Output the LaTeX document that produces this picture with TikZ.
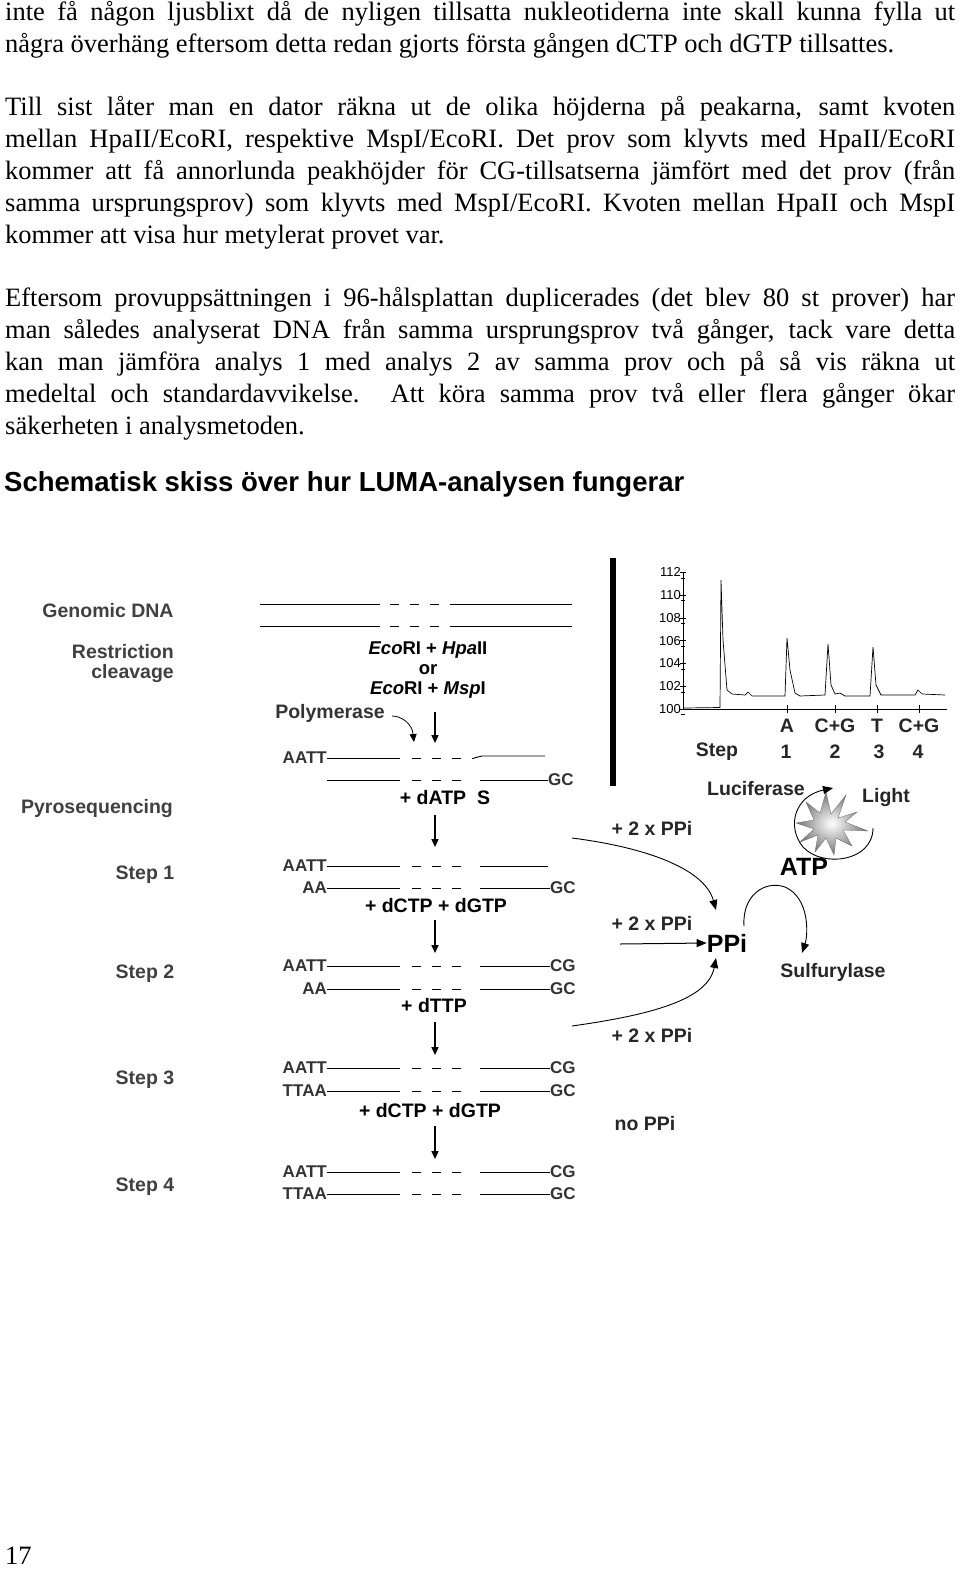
\documentclass[tikz,border=0pt]{standalone}
\usepackage{fontspec}
\setmainfont{Liberation Serif}
\newfontfamily\arial{Liberation Sans}
\usetikzlibrary{arrows.meta}
\begin{document}
\begin{tikzpicture}[x=1pt,y=-1pt,
 lbl/.style={font=\arial\bfseries\fontsize{19.5}{22}\selectfont,text=black!75,inner sep=0},
 dlbl/.style={font=\arial\bfseries\fontsize{19.5}{22}\selectfont,inner sep=0},
 seq/.style={font=\arial\bfseries\fontsize{17}{19}\selectfont,text=black!80,inner sep=0},
 strand/.style={line width=0.9pt},
 gap/.style={line width=0.9pt,dash pattern=on 9pt off 11pt},
 dn/.style={-{Triangle[length=8pt,width=7pt]},line width=1.6pt},
 carr/.style={-{Triangle[length=10pt,width=8pt]},line width=0.9pt}]
\useasboundingbox (0,0) rectangle (960,1571);
\node[anchor=north west,inner sep=0,text width=950pt,align=justify,font=\fontsize{26.5}{32}\selectfont] (txt) at (5,1) {%
inte få någon ljusblixt då de nyligen tillsatta nukleotiderna inte skall kunna fylla ut\linebreak
några överhäng eftersom detta redan gjorts första gången dCTP och dGTP tillsattes.\par
\vspace{31pt}
Till sist låter man en dator räkna ut de olika höjderna på peakarna, samt kvoten\linebreak
mellan HpaII/EcoRI, respektive MspI/EcoRI. Det prov som klyvts med HpaII/EcoRI\linebreak
kommer att få annorlunda peakhöjder för CG-tillsatserna jämfört med det prov (från\linebreak
samma ursprungsprov) som klyvts med MspI/EcoRI. Kvoten mellan HpaII och MspI\linebreak
kommer att visa hur metylerat provet var.\par
\vspace{31pt}
Eftersom provuppsättningen i 96-hålsplattan duplicerades (det blev 80 st prover) har\linebreak
man således analyserat DNA från samma ursprungsprov två gånger, tack vare detta\linebreak
kan man jämföra analys 1 med analys 2 av samma prov och på så vis räkna ut\linebreak
medeltal och standardavvikelse. Att köra samma prov två eller flera gånger ökar\linebreak
säkerheten i analysmetoden.\par};
\node[anchor=west,inner sep=0,font=\arial\bfseries\fontsize{27.5}{30}\selectfont] (head) at (4,484) {Schematisk skiss över hur LUMA-analysen fungerar};
\node[anchor=west,inner sep=0,font=\fontsize{26.5}{30}\selectfont] (pg) at (5,1556) {17};
% left labels
\node[lbl] (gd) at (108,611) {Genomic DNA};
\node[lbl,align=right,anchor=east,font=\arial\bfseries\fontsize{19.5}{20}\selectfont] (rc) at (174,663) {Restriction\\cleavage};
\node[lbl] (py) at (97,808) {Pyrosequencing};
\node[lbl] (s1) at (145,875) {Step 1};
\node[lbl] (s2) at (145,974) {Step 2};
\node[lbl] (s3) at (145,1080) {Step 3};
\node[lbl] (s4) at (145,1187) {Step 4};
% genomic DNA
\foreach \y in {604,626}{
 \draw[strand] (260,\y) -- (380,\y);
 \draw[gap] (390,\y) -- (444,\y);
 \draw[strand] (450,\y) -- (572,\y);}
\node[dlbl,align=center,font=\arial\bfseries\fontsize{18.5}{20}\selectfont] (enz) at (428,670) {\textit{Eco}RI + \textit{Hpa}II\\or\\\textit{Eco}RI + \textit{Msp}I};
\node[dlbl,text=black!80] (pol) at (330,713) {Polymerase};
\coordinate (pa) at (414,742);
\draw[dn,line width=0.8pt] (392,716) .. controls (402,716) and (412,724) .. (pa);
\coordinate (a0s) at (435,712); \coordinate (a0e) at (435,743);
\draw[dn] (a0s) -- (a0e);
\newcommand\dstrand[4]{% y, left label, right label, right end
 \node[seq,anchor=east] at (327,#1) {#2};
 \draw[strand] (327,#1) -- (400,#1);
 \draw[gap] (412,#1) -- (466,#1);
 \draw[strand] (480,#1) -- (#4,#1);
 \node[seq,anchor=west] at (#4,#1) {#3};}
\node[seq,anchor=east] at (327,758) {AATT};
\draw[strand] (327,758) -- (400,758);
\draw[gap] (412,758) -- (474,758);
\draw[strand] (474,758) -- (482,756) -- (545,756);
\dstrand{780}{}{GC}{548}
\node[dlbl] (datp) at (445,798) {+ dATP\ \ S};
\draw[dn] (435,815) -- (435,847);
\dstrand{866}{AATT}{}{548}
\dstrand{888}{AA}{GC}{550}
\node[dlbl] (l2) at (436,906) {+ dCTP + dGTP};
\draw[dn] (435,920) -- (435,953);
\dstrand{966}{AATT}{CG}{550}
\dstrand{989}{AA}{GC}{550}
\node[dlbl] (l3) at (434,1006) {+ dTTP};
\draw[dn] (435,1022) -- (435,1055);
\dstrand{1068}{AATT}{CG}{550}
\dstrand{1091}{TTAA}{GC}{550}
\node[dlbl] (l4) at (430,1111) {+ dCTP + dGTP};
\draw[dn] (435,1126) -- (435,1159);
\dstrand{1172}{AATT}{CG}{550}
\dstrand{1194}{TTAA}{GC}{550}
% bar
\fill (610,558) rectangle (616,786);
% chart
\draw[line width=0.8pt] (683,572) -- (683,709) -- (947,709);
\foreach \v in {100,102,104,106,108,110,112}{
 \pgfmathsetmacro\yy{709-(\v-100)*11.4}
 \draw[line width=0.6pt] (680,\yy) -- (686,\yy);
 \node[font=\arial\fontsize{13}{13}\selectfont,anchor=east,inner sep=0] at (681,\yy) {\v};
 \draw[line width=0.5pt] (681,\yy+5.7) -- (685,\yy+5.7);}
\foreach \x in {787,835,877,919} \draw[line width=0.8pt] (\x,705) -- (\x,713);
\draw[line width=0.7pt] (684,708) -- (720,707.5) -- (721,580) -- (723,640) -- (727,690) -- (732,694) -- (745,695) -- (748,692) -- (752,696) -- (785,696) -- (787,638) -- (790,670) -- (795,693) -- (800,696) -- (825,695) -- (828,644) -- (831,685) -- (835,694) -- (840,693) -- (845,696) -- (870,696) -- (873,647) -- (876,685) -- (881,695) -- (915,695) -- (918,690) -- (922,694) -- (945,695);
\tikzset{cl/.style={dlbl,font=\arial\bfseries\fontsize{19.5}{20}\selectfont,text=black!85}}
\foreach \x/\t in {787/A,835/C+G,877/T,919/C+G} \node[cl] at (\x,726) {\t};
\node[cl] (stp) at (717,752) {Step};
\foreach \x/\t in {786/1,835/2,879/3,918/4} \node[cl] at (\x,752) {\t};
% right cycle
\node[dlbl,text=black!85] (luc) at (756,789) {Luciferase};
\node[dlbl,text=black!85] (light) at (886,797) {Light};
\shade[inner color=white,outer color=black!55,draw=black!60,line width=0.3pt]
 plot[smooth cycle,tension=0] coordinates {(857,812) (838,818) (846,795) (831,814) (826,792) (820,813) (806,802) (814,820) (796,823) (814,829) (800,842) (818,835) (815,852) (826,838) (834,855) (836,838) (852,846) (843,830) (868,831) (845,822)};
\draw[carr] (873,828) .. controls (873,862) and (822,868) .. (803,847) .. controls (786,826) and (795,796) .. (833,788);
\node[dlbl,font=\arial\bfseries\fontsize{25}{26}\selectfont] (atp) at (804,867) {ATP};
\node[dlbl,font=\arial\bfseries\fontsize{25}{26}\selectfont] (ppi) at (727,943) {PPi};
\node[dlbl,text=black!85] (sul) at (833,972) {Sulfurylase};
\coordinate (cs) at (744,926);
\draw[carr] (cs) .. controls (742,895) and (765,880) .. (785,887) .. controls (810,898) and (808,935) .. (802,953);
\node[dlbl,text=black!85] (p1) at (652,828) {+ 2 x PPi};
\node[dlbl,text=black!85] (p2) at (652,923) {+ 2 x PPi};
\node[dlbl,text=black!85] (p3) at (652,1035) {+ 2 x PPi};
\node[dlbl,text=black!85] (np) at (645,1124) {no PPi};
\coordinate (c1) at (572,838); \coordinate (c3) at (572,1026);
\draw[carr] (c1) .. controls (650,848) and (705,870) .. (716,910);
\draw[carr,line width=1pt] (620,944) -- (ppi.west);
\draw[carr] (c3) .. controls (650,1015) and (708,1000) .. (716,958);
\end{tikzpicture}
\end{document}
